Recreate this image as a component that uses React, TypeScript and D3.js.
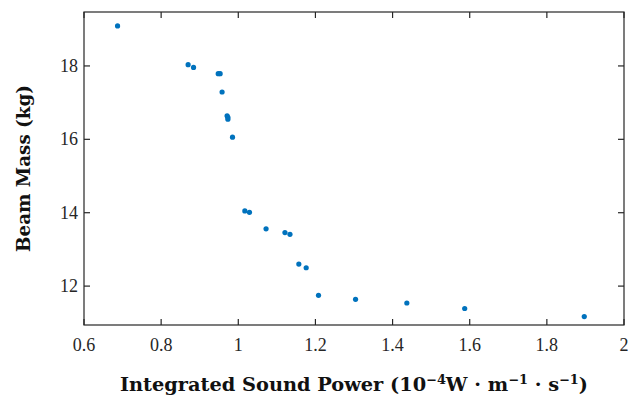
import React from "react";
import * as d3 from "d3";

const powerValues = [0.687, 0.870, 0.884, 0.948, 0.953, 0.958, 0.971, 0.973, 0.973, 0.985, 1.017, 1.029, 1.072, 1.121, 1.134, 1.157, 1.176, 1.208, 1.304, 1.437, 1.587, 1.897];
const massValues = [19.09, 18.035, 17.96, 17.79, 17.79, 17.29, 16.64, 16.6, 16.55, 16.06, 14.05, 14.01, 13.56, 13.46, 13.41, 12.6, 12.5, 11.75, 11.64, 11.54, 11.39, 11.17];
const xTicks = [0.6, 0.8, 1, 1.2, 1.4, 1.6, 1.8, 2];
const yTicks = [12, 14, 16, 18];
const xDomain = [0.6, 2];
const yDomain = [10.94, 19.47];

export default function App() {
  const W = 629, H = 400;
  const left = 84, right = 624, top = 12, bottom = 325;
  const x = d3.scaleLinear().domain(xDomain).range([left, right]);
  const y = d3.scaleLinear().domain(yDomain).range([bottom, top]);
  const axisColor = "#262626";
  const tickFont = "Liberation Serif";
  const labelFont = "DejaVu Serif";
  const tick = 6;
  return (
    <svg width={W} height={H} style={{ position: "absolute", left: 0, top: 0, background: "#fff" }}>
      <rect x={0} y={0} width={W} height={H} fill="#fff" />
      <rect x={left} y={top} width={right - left} height={bottom - top} fill="none" stroke={axisColor} strokeWidth={1.2} />
      {xTicks.map((t) => (
        <g key={"x" + t}>
          <line x1={x(t)} x2={x(t)} y1={bottom} y2={bottom - tick} stroke={axisColor} strokeWidth={1.2} />
          <line x1={x(t)} x2={x(t)} y1={top} y2={top + tick} stroke={axisColor} strokeWidth={1.2} />
          <text x={x(t)} y={351} textAnchor="middle" fontFamily={tickFont} fontSize={18} fill="#262626">{String(t)}</text>
        </g>
      ))}
      {yTicks.map((t) => (
        <g key={"y" + t}>
          <line x1={left} x2={left + tick} y1={y(t)} y2={y(t)} stroke={axisColor} strokeWidth={1.2} />
          <line x1={right} x2={right - tick} y1={y(t)} y2={y(t)} stroke={axisColor} strokeWidth={1.2} />
          <text x={78} y={y(t)} dy="0.34em" textAnchor="end" fontFamily={tickFont} fontSize={18} fill="#262626">{String(t)}</text>
        </g>
      ))}
      {powerValues.map((p, i) => (
        <circle key={i} cx={x(p)} cy={y(massValues[i])} r={2.6} fill="#0072BD" />
      ))}
      <text transform={`translate(30, ${(top + bottom) / 2}) rotate(-90)`} textAnchor="middle" fontFamily={labelFont} fontWeight="bold" fontSize={18} fill="#111" textLength={167} lengthAdjust="spacingAndGlyphs">Beam Mass (kg)</text>
      <text x={(left + right) / 2} y={391} textAnchor="middle" fontFamily={labelFont} fontWeight="bold" fontSize={18} fill="#111" textLength={468} lengthAdjust="spacingAndGlyphs">
        Integrated Sound Power (10<tspan baselineShift="super" fontSize={12}>−4</tspan>W · m<tspan baselineShift="super" fontSize={12}>−1</tspan> · s<tspan baselineShift="super" fontSize={12}>−1</tspan>)
      </text>
    </svg>
  );
}
